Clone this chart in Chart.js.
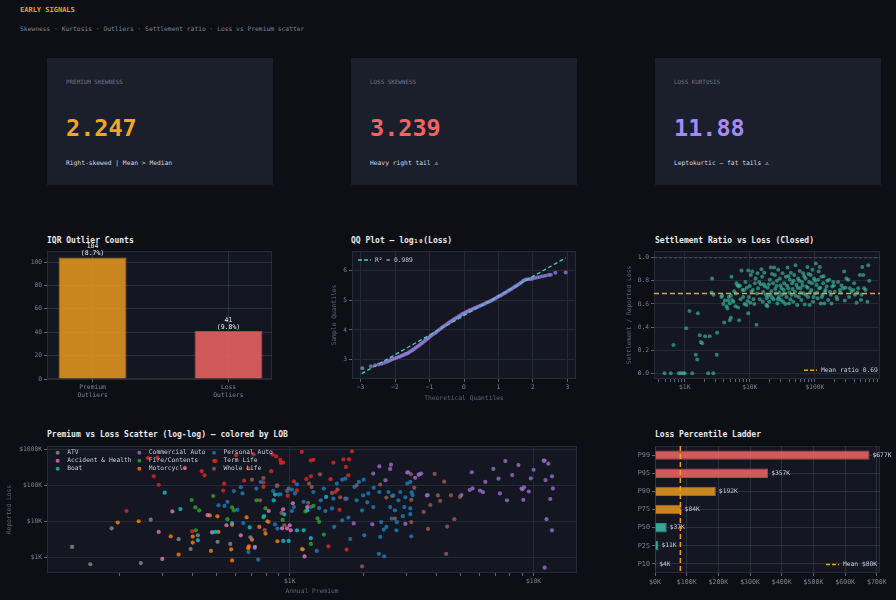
<!DOCTYPE html>
<html>
<head>
<meta charset="utf-8">
<script src="https://cdn.jsdelivr.net/npm/chart.js@4.4.1/dist/chart.umd.min.js"></script>
<style>
html, body { margin: 0; padding: 0; background: #0d0f14; }
body { width: 896px; height: 600px; position: relative; overflow: hidden; font-family: 'DejaVu Sans Mono', monospace; }
.t { position: absolute; white-space: nowrap; line-height: 1; }
.card { position: absolute; top: 58px; width: 226px; height: 127px; background: #1b1f2b; }
.card .lbl { left: 19px; top: 22px; font-size: 5.9px; color: #6d7389; }
.card .val { left: 19px; top: 59px; font-size: 23.5px; font-weight: bold; }
.card .sub { left: 19px; top: 102px; font-size: 6.3px; color: #d4d7e2; }
.ttl { font-size: 8px; font-weight: bold; color: #e8eaf0; }
.box { position: absolute; }
</style>
</head>
<body>

<div class="t" style="left:20px;top:7px;font-size:7px;font-weight:bold;color:#e8a317;">EARLY SIGNALS</div>
<div class="t" style="left:20px;top:26px;font-size:6.3px;color:#7d839c;">Skewness · Kurtosis · Outliers · Settlement ratio · Loss vs Premium scatter</div>

<div class="card" style="left:47px;">
  <div class="t lbl">PREMIUM SKEWNESS</div>
  <div class="t val" style="color:#f2a623;">2.247</div>
  <div class="t sub">Right-skewed | Mean &gt; Median</div>
</div>
<div class="card" style="left:351px;">
  <div class="t lbl">LOSS SKEWNESS</div>
  <div class="t val" style="color:#f26464;">3.239</div>
  <div class="t sub">Heavy right tail ⚠</div>
</div>
<div class="card" style="left:655px;">
  <div class="t lbl">LOSS KURTOSIS</div>
  <div class="t val" style="color:#a48af5;">11.88</div>
  <div class="t sub">Leptokurtic — fat tails ⚠</div>
</div>

<div class="t ttl" style="left:47px;top:237px;">IQR Outlier Counts</div>
<div class="t ttl" style="left:351px;top:237px;">QQ Plot — log₁₀(Loss)</div>
<div class="t ttl" style="left:655px;top:237px;">Settlement Ratio vs Loss (Closed)</div>
<div class="t ttl" style="left:47px;top:431px;">Premium vs Loss Scatter (log-log) — colored by LOB</div>
<div class="t ttl" style="left:655px;top:431px;">Loss Percentile Ladder</div>

<div class="box" style="left:10px;top:232px;width:270px;height:173px;"><canvas id="outliers"></canvas></div>
<div class="box" style="left:315px;top:245px;width:270px;height:160px;"><canvas id="qq"></canvas></div>
<div class="box" style="left:610px;top:245px;width:280px;height:160px;"><canvas id="settle"></canvas></div>
<div class="box" style="left:0px;top:440px;width:590px;height:160px;"><canvas id="scatter"></canvas></div>
<div class="box" style="left:610px;top:440px;width:286px;height:160px;"><canvas id="ladder"></canvas></div>

<script>
// ---- data ----
const outlierLabels = [['Premium', 'Outliers'], ['Loss', 'Outliers']];
const outlierCounts = [104, 41];
const outlierPct = ['8.7%', '9.8%'];
const outlierTicks = [0, 20, 40, 60, 80, 100];

const qqTheo = [-2.95, -2.70, -2.58, -2.48, -2.40, -2.33, -2.26, -2.20, -2.14, -2.08, -2.02, -1.96, -1.90, -1.85,
  -1.80, -1.75, -1.70, -1.65, -1.60, -1.55, -1.50, -1.45, -1.40, -1.35, -1.30, -1.25, -1.20, -1.15, -1.10, -1.05,
  -1.00, -0.95, -0.90, -0.85, -0.80, -0.75, -0.70, -0.65, -0.60, -0.55, -0.50, -0.45, -0.40, -0.35, -0.30, -0.25,
  -0.20, -0.15, -0.10, -0.05, 0.00, 0.05, 0.10, 0.15, 0.20, 0.25, 0.30, 0.35, 0.40, 0.45, 0.50, 0.55, 0.60, 0.65,
  0.70, 0.75, 0.80, 0.85, 0.90, 0.95, 1.00, 1.05, 1.10, 1.15, 1.20, 1.25, 1.30, 1.35, 1.40, 1.45, 1.50, 1.55, 1.60,
  1.65, 1.70, 1.75, 1.80, 1.86, 1.92, 1.98, 2.05, 2.12, 2.20, 2.28, 2.36, 2.45, 2.52, 2.65, 2.95];
const qqSample = [2.71, 2.78, 2.81, 2.84, 2.86, 2.89, 2.92, 2.95, 2.98, 3.01, 3.04, 3.06, 3.09, 3.11,
  3.14, 3.16, 3.19, 3.21, 3.24, 3.28, 3.32, 3.36, 3.40, 3.44, 3.48, 3.53, 3.57, 3.62, 3.67, 3.71,
  3.76, 3.80, 3.85, 3.89, 3.93, 3.98, 4.02, 4.07, 4.11, 4.15, 4.19, 4.23, 4.27, 4.31, 4.35, 4.38,
  4.42, 4.46, 4.49, 4.53, 4.56, 4.59, 4.62, 4.65, 4.68, 4.70, 4.73, 4.75, 4.78, 4.80, 4.83, 4.85, 4.88, 4.91,
  4.93, 4.96, 4.99, 5.02, 5.05, 5.09, 5.12, 5.15, 5.18, 5.22, 5.25, 5.29, 5.32, 5.36, 5.39, 5.43, 5.47, 5.51, 5.54,
  5.58, 5.63, 5.67, 5.69, 5.70, 5.71, 5.72, 5.74, 5.76, 5.78, 5.80, 5.82, 5.84, 5.85, 5.92, 5.93];
const qqFitX = [-2.97, 2.95];
const qqFitY = [2.53, 6.42];
const qqXTicks = [-3, -2, -1, 0, 1, 2, 3];
const qqYTicks = [3, 4, 5, 6];

// settlement: [reported loss, settlement ratio]
const settleLowPts = [[490, 0], [610, 0], [810, 0], [870, 0], [940, 0], [1000, 0], [1300, 0], [2290, 0], [2750, 0],
  [670, 0.245], [1050, 0.39], [1180, 0.54], [1590, 0.52], [1480, 0.16], [1560, 0.12], [1700, 0.33], [1760, 0.27],
  [1850, 0.26], [2050, 0.32], [2420, 0.32], [2630, 0.82], [2580, 0.70], [2760, 0.68], [3140, 0.35], [3100, 0.16],
  [3750, 0.67], [4030, 0.44], [4930, 0.46], [5100, 0.48], [6850, 0.46], [12650, 0.42]];
const settleMainPts = [[3660, 0.66], [3900, 0.60], [4130, 0.63], [4370, 0.58], [4530, 0.56], [4640, 0.63], [4760, 0.66],
  [4930, 0.605], [5100, 0.67], [5220, 0.835], [5350, 0.635], [5750, 0.71], [6020, 0.58], [6240, 0.78], [6450, 0.76],
  [6770, 0.75], [7030, 0.76], [7440, 0.89], [7900, 0.66], [8170, 0.72], [8560, 0.79], [8870, 0.59], [9200, 0.625],
  [9440, 0.52], [9440, 0.89], [9990, 0.755], [10340, 0.85], [10600, 0.705], [10870, 0.88], [11400, 0.64], [11940, 0.78],
  [12240, 0.82], [13100, 0.865], [13400, 0.735], [13890, 0.79], [14700, 0.77], [15100, 0.90], [15450, 0.835],
  [16050, 0.705], [16650, 0.87], [17050, 0.75], [18000, 0.59], [18200, 0.65], [18600, 0.58], [19100, 0.67],
  [19600, 0.77], [20300, 0.81], [21000, 0.915], [21500, 0.71], [22000, 0.655], [22800, 0.78], [23600, 0.915],
  [24200, 0.85], [25000, 0.69], [25700, 0.755], [26600, 0.605], [27300, 0.895], [27900, 0.66], [28900, 0.82],
  [30000, 0.635], [30700, 0.735], [31800, 0.865], [32500, 0.62], [33700, 0.78], [34500, 0.69], [35800, 0.835],
  [36600, 0.66], [38000, 0.915], [38900, 0.735], [39800, 0.605], [41200, 0.81], [42700, 0.87], [43700, 0.68],
  [44700, 0.78], [46400, 0.62], [48000, 0.85], [49200, 0.705], [50300, 0.935], [52100, 0.765], [53400, 0.59],
  [55200, 0.82], [56500, 0.66], [58500, 0.885], [59900, 0.735], [62000, 0.635], [63500, 0.79], [65800, 0.865],
  [67400, 0.69], [69800, 0.595], [71500, 0.82], [74000, 0.75], [76700, 0.92], [78500, 0.66], [81300, 0.79],
  [83200, 0.59], [86200, 0.85], [88300, 0.72], [91400, 0.895], [93600, 0.62], [97000, 0.82], [99400, 0.69],
  [103000, 0.95], [106000, 0.765], [110000, 0.65], [112000, 0.81], [116000, 0.735], [119000, 0.92], [123000, 0.605],
  [126000, 0.835], [131000, 0.68], [134000, 0.78], [139000, 0.605], [142000, 0.705], [151000, 0.75], [160000, 0.635],
  [166000, 0.81], [170000, 0.705], [180000, 0.605], [185000, 0.75], [191000, 0.79], [202000, 0.705], [215000, 0.66],
  [227000, 0.79], [241000, 0.72], [256000, 0.76], [271000, 0.735], [281000, 0.88], [288000, 0.63], [305000, 0.82],
  [325000, 0.81], [344000, 0.735], [365000, 0.705], [387000, 0.72], [411000, 0.68], [436000, 0.61], [463000, 0.735],
  [491000, 0.85], [509000, 0.635], [521000, 0.68], [534000, 0.92], [553000, 0.85], [570000, 0.735], [660000, 0.935],
  [684000, 0.80]];
const settleExtraPts = [[5600, 0.62], [6100, 0.69], [6600, 0.57], [7200, 0.64], [7700, 0.72], [8300, 0.60], [9000, 0.74],
  [9700, 0.66], [10200, 0.61], [11100, 0.72], [11700, 0.60], [12800, 0.69], [14200, 0.64], [15800, 0.62], [16400, 0.77],
  [17500, 0.68], [18900, 0.74], [19900, 0.62], [20800, 0.68], [21900, 0.86], [23100, 0.64], [24600, 0.73], [26100, 0.80],
  [27000, 0.64], [28400, 0.70], [29500, 0.76], [31200, 0.68], [33100, 0.72], [35000, 0.60], [37200, 0.76], [39200, 0.84],
  [40500, 0.70], [42000, 0.64], [45300, 0.73], [47100, 0.80], [50800, 0.67], [54300, 0.74], [57300, 0.80], [60900, 0.70],
  [64600, 0.76], [68500, 0.84], [72700, 0.68], [77500, 0.74], [80100, 0.86], [84700, 0.70], [89900, 0.78], [95200, 0.66],
  [101000, 0.80], [108000, 0.70], [114000, 0.88], [121000, 0.74], [128000, 0.66], [136000, 0.84], [146000, 0.72],
  [155000, 0.80], [175000, 0.68], [196000, 0.76], [220000, 0.64], [248000, 0.70], [295000, 0.74], [335000, 0.66],
  [400000, 0.78], [450000, 0.70], [600000, 0.72], [640000, 0.62]];
const settleMeanRatio = 0.69;
const settleYTicks = [0, 0.2, 0.4, 0.6, 0.8, 1.0];

// premium vs loss by line of business: [annual premium, reported loss]
const lobNames = ['ATV', 'Accident & Health', 'Boat', 'Commercial Auto', 'Fire/Contents', 'Motorcycle',
  'Personal Auto', 'Term Life', 'Whole Life'];
const atvPts = [[128, 1940], [152, 640], [186, 6400], [245, 690], [269, 11200], [350, 3200], [392, 1700], [420, 4100],
  [480, 5000], [506, 2700], [570, 2350], [690, 3600]];
const accidentPts = [[290, 5100], [300, 900], [330, 19000], [460, 15000], [550, 7800], [630, 4100], [720, 1940],
  [820, 19500], [930, 6400], [940, 21700], [975, 6400], [1000, 7800], [1010, 5650], [1030, 32000], [1150, 1060], [1180, 25000]];
const boatPts = [[307, 63000], [356, 22000], [420, 2960], [482, 4900], [496, 5100], [580, 9000], [685, 6800], [785, 14100],
  [860, 38600], [870, 56000], [940, 2850], [950, 15700], [990, 2850], [1070, 5650], [1140, 5650], [1180, 20400],
  [1220, 3400], [1410, 48000]];
const commercialPts = [[1830, 8800], [2180, 8300], [2200, 215000], [2330, 340000], [2470, 139000], [2580, 290000],
  [2600, 380000], [2980, 8500], [3030, 230000], [3060, 234000], [3270, 164000], [3380, 200000], [3400, 205000],
  [3460, 215000], [3650, 53000], [3680, 54000], [5060, 54000], [5470, 75000], [5580, 234000], [5620, 83000],
  [6030, 72000], [6200, 65000], [6340, 126000], [6840, 290000], [7180, 155000], [7280, 60000], [7660, 480000],
  [7780, 38600], [8170, 195000], [8670, 370000], [8930, 82000], [9000, 78000], [9080, 40000], [9140, 89000],
  [9560, 68000], [9740, 158000], [10000, 275000], [11000, 490000], [11100, 490000], [11200, 142000], [11500, 405000],
  [11700, 42000], [11300, 11500], [11900, 180000], [11900, 5650], [12000, 83000], [11100, 515]];
const firePts = [[396, 39500], [410, 24500], [425, 20400], [485, 51000], [412, 5650], [555, 11500], [580, 24500],
  [590, 20400], [730, 38600], [780, 13000], [795, 23000], [935, 11000], [1160, 19000], [1250, 27000], [1300, 12200],
  [1320, 9700], [1380, 4300], [1220, 2350]];
const motorcyclePts = [[197, 9300], [240, 10100], [325, 3840], [350, 1190], [400, 3780], [400, 2570], [470, 14700],
  [475, 1500], [505, 13800], [510, 5100], [575, 1670], [580, 820], [580, 8000], [665, 13000], [680, 2020], [675, 1800],
  [700, 3100], [750, 7000], [795, 4570], [810, 10100], [890, 2800], [1130, 1670]];
const personalPts = [[510, 28000], [540, 27000], [555, 35000], [590, 70000], [610, 21000], [630, 90000], [640, 60000],
  [645, 9000], [677, 1400], [718, 1810], [730, 82000], [742, 860], [760, 125000], [855, 70000], [870, 8300], [890, 6300],
  [900, 56000], [915, 57000], [975, 70000], [1020, 77000], [1020, 19500], [1040, 25000], [1050, 60000], [1070, 108000],
  [1140, 35000], [1220, 25000], [1250, 66000], [1290, 1500], [1320, 23500], [1340, 38600], [1380, 82000], [1400, 19400],
  [1490, 23000], [1510, 43000], [1520, 7000], [1560, 113000], [1640, 145000], [1640, 10700], [1690, 155000],
  [1710, 43000], [1740, 12800], [1770, 3230], [1840, 91000], [1880, 38600], [1920, 126000], [1980, 20400], [2000, 53000],
  [2010, 145000], [2020, 4100], [2080, 34000], [2100, 60000], [2200, 25000], [2210, 86000], [2320, 1250], [2330, 66000],
  [2350, 3700], [2370, 9600], [2430, 5900], [2440, 1070], [2490, 7000], [2540, 66000], [2580, 25000], [2620, 12000],
  [2660, 53000], [2700, 20400], [2740, 5650], [2750, 9600], [2790, 38600], [2840, 66000], [2910, 14000], [2950, 25000],
  [2980, 47000], [3030, 113000], [3120, 126000], [3160, 64000], [3190, 54000], [3120, 23000], [3120, 16000], [3150, 3840]];
const termLifePts = [[214, 19500], [262, 580000], [277, 180000], [290, 105000], [286, 595000], [372, 310000], [398, 5300],
  [436, 250000], [447, 192000], [496, 480000], [533, 72000], [538, 113000], [603, 700000], [650, 137000], [677, 300000],
  [710, 740000], [780, 122000], [780, 91000], [840, 250000], [850, 725000], [880, 650000], [915, 515000], [940, 435000],
  [920, 425000], [980, 52000], [1040, 130000], [1070, 73000], [1120, 860000], [1170, 150000], [1220, 500000],
  [1220, 180000], [1250, 520000], [1440, 2020], [1470, 150000], [1510, 435000], [1540, 66000], [1600, 21000],
  [1660, 535000], [1700, 330000], [1710, 1640], [1740, 192000], [1750, 535000], [1800, 900000]];
const wholeLifePts = [[700, 145000], [755, 38600], [780, 162000], [790, 5750], [820, 9600], [885, 97000], [890, 101000],
  [925, 17200], [950, 7800], [990, 82000], [1120, 1700], [1190, 33000], [1200, 113000], [1230, 91000], [1330, 205000],
  [1490, 62000], [1570, 77000], [1610, 47000], [1690, 43000], [1880, 101000], [1980, 560], [2350, 106000], [2490, 46000],
  [2630, 51000], [2700, 12000], [3140, 205000], [3150, 9600], [3150, 40000], [3240, 86000], [3540, 18300], [3690, 6150],
  [3770, 28600], [3930, 210000], [4050, 53000], [4140, 37500], [4300, 128000], [4380, 1240], [4420, 7150], [4580, 53000],
  [4730, 11500], [4990, 48000]];

const ladderLabels = ['P99', 'P95', 'P90', 'P75', 'P50', 'P25', 'P10'];
const ladderValues = [677000, 357000, 192000, 84000, 37000, 11000, 4000];
const ladderMean = 80000;
const ladderTicks = [0, 100000, 200000, 300000, 400000, 500000, 600000, 700000];

// ---- look ----
const FONT = "'DejaVu Sans Mono', monospace";
const GRID = '#242935';
const GRID_OVER = 'rgba(70,76,96,0.45)';
const TICKC = '#5d6275';
const LEGEND_TXT = '#c8ccd8';
Chart.defaults.font.family = FONT;
Chart.defaults.font.size = 6.3;
Chart.defaults.color = '#7c8196';
Chart.defaults.animation = false;
Chart.defaults.plugins.legend.display = false;
Chart.defaults.plugins.tooltip.enabled = false;

const lobColors = ['rgba(140,140,140,0.8)', 'rgba(227,119,194,0.8)', 'rgba(23,190,207,0.8)', 'rgba(148,103,189,0.85)',
  'rgba(44,160,44,0.85)', 'rgba(255,127,14,0.8)', 'rgba(31,119,180,0.85)', 'rgba(214,39,40,0.85)', 'rgba(140,86,75,0.9)'];

function toXY(pairs) { return pairs.map(p => ({ x: p[0], y: p[1] })); }
function fixedTicks(vals) { return s => { s.ticks = vals.map(v => ({ value: v })); }; }
function logTicks(lo, hi) {
  const out = [];
  for (let e = Math.floor(Math.log10(lo)); e <= Math.ceil(Math.log10(hi)); e++) {
    for (let m = 1; m < 10; m++) {
      const v = m * Math.pow(10, e);
      if (v >= lo && v <= hi) out.push({ value: v });
    }
  }
  return out;
}
function isMajor(v) { const l = Math.log10(v); return Math.abs(l - Math.round(l)) < 1e-9; }
function kLabel(v) { return '$' + Math.round(v / 1000) + 'K'; }
function minus(v) { return v < 0 ? '\u2212' + Math.abs(v) : String(v); }

// plot background + frame
const plotBg = {
  id: 'plotBg',
  beforeDraw(chart) {
    const { ctx, chartArea: a } = chart;
    ctx.save();
    ctx.fillStyle = '#141722';
    ctx.fillRect(a.left, a.top, a.width, a.height);
    ctx.strokeStyle = '#262b37';
    ctx.lineWidth = 1;
    ctx.strokeRect(a.left + 0.5, a.top + 0.5, a.width - 1, a.height - 1);
    ctx.restore();
  }
};
Chart.register(plotBg);

// dashed reference lines drawn through the scales
function refLines(lines) {
  return {
    id: 'refLines',
    afterDraw(chart) {
      const { ctx, chartArea: a } = chart;
      lines.forEach(l => {
        const p = chart.scales[l.axis].getPixelForValue(l.value);
        ctx.save();
        ctx.strokeStyle = l.color;
        ctx.lineWidth = l.width;
        ctx.setLineDash(l.dash);
        ctx.beginPath();
        if (l.axis === 'x') { ctx.moveTo(p, a.top); ctx.lineTo(p, a.bottom); }
        else { ctx.moveTo(a.left, p); ctx.lineTo(a.right, p); }
        ctx.stroke();
        ctx.restore();
      });
    }
  };
}

// legend drawn inside the plot area
function innerLegend(items) {
  return {
    id: 'innerLegend',
    afterDraw(chart) {
      const { ctx, chartArea: a } = chart;
      ctx.save();
      ctx.font = '6.3px ' + FONT;
      ctx.textBaseline = 'middle';
      items.forEach(it => {
        const x = it.right ? a.right - it.dx : a.left + it.dx;
        const y = it.bottom ? a.bottom - it.dy : a.top + it.dy;
        if (it.kind === 'dot') {
          ctx.fillStyle = it.color;
          ctx.beginPath(); ctx.arc(x, y, 2, 0, Math.PI * 2); ctx.fill();
          ctx.fillStyle = LEGEND_TXT;
          ctx.fillText(it.text, x + 9.5, y);
        } else {
          ctx.strokeStyle = it.color;
          ctx.lineWidth = 1.5;
          ctx.setLineDash([4, 2]);
          ctx.beginPath(); ctx.moveTo(x, y); ctx.lineTo(x + 13, y); ctx.stroke();
          ctx.setLineDash([]);
          ctx.fillStyle = LEGEND_TXT;
          ctx.fillText(it.text, x + 17, y);
        }
      });
      ctx.restore();
    }
  };
}

function axisBase(extra) {
  return Object.assign({
    grid: { color: GRID, tickColor: TICKC, tickLength: 3 },
    border: { display: false },
    ticks: { padding: 2, maxRotation: 0, autoSkip: false }
  }, extra);
}

// ---- 1. IQR outlier counts ----
new Chart(document.getElementById('outliers'), {
  type: 'bar',
  data: {
    datasets: [{
      data: outlierCounts.map((c, i) => ({ x: i, y: c })),
      backgroundColor: ['rgba(232,153,30,0.86)', 'rgba(240,100,100,0.86)'],
      borderColor: ['rgba(170,110,25,0.95)', 'rgba(180,70,70,0.95)'],
      borderWidth: 1,
      categoryPercentage: 1,
      barPercentage: 0.5
    }]
  },
  options: {
    responsive: true, maintainAspectRatio: false,
    layout: { padding: { left: 0, right: 8, top: 19, bottom: 0 } },
    scales: {
      x: axisBase({ type: 'linear', z: 1, offset: false, min: -0.335, max: 1.32,
        afterBuildTicks: fixedTicks([0, 1]),
        grid: { color: GRID_OVER, tickColor: TICKC, tickLength: 3, offset: false },
        ticks: { padding: 2, maxRotation: 0, autoSkip: false, callback: v => outlierLabels[v] },
        afterFit: s => { s.height = 26; } }),
      y: axisBase({ z: 1, min: 0, max: 109.5, grid: { color: GRID_OVER, tickColor: TICKC, tickLength: 3 },
        afterBuildTicks: fixedTicks(outlierTicks), afterFit: s => { s.width = 37; } })
    }
  },
  plugins: [{
    id: 'barTop',
    afterDraw(chart) {
      const { ctx } = chart;
      const meta = chart.getDatasetMeta(0);
      ctx.save();
      ctx.font = '6.5px ' + FONT;
      ctx.fillStyle = '#eef0f5';
      ctx.textAlign = 'center';
      ctx.textBaseline = 'middle';
      meta.data.forEach((el, i) => {
        ctx.fillText(String(outlierCounts[i]), el.x, el.y - 11);
        ctx.fillText('(' + outlierPct[i] + ')', el.x, el.y - 3.8);
      });
      ctx.restore();
    }
  }]
});

// ---- 2. QQ plot ----
new Chart(document.getElementById('qq'), {
  type: 'scatter',
  data: {
    datasets: [{
      type: 'line',
      data: qqFitX.map((x, i) => ({ x: x, y: qqFitY[i] })),
      borderColor: '#45d0b6',
      borderWidth: 1.3,
      borderDash: [4, 2.5],
      pointRadius: 0
    }, {
      data: qqTheo.map((x, i) => ({ x: x, y: qqSample[i] })),
      backgroundColor: 'rgba(160,132,240,0.7)',
      borderWidth: 0,
      pointRadius: 2
    }]
  },
  options: {
    responsive: true, maintainAspectRatio: false,
    layout: { padding: { left: 0, right: 9, top: 6, bottom: 0 } },
    scales: {
      x: axisBase({ type: 'linear', min: -3.25, max: 3.25, afterBuildTicks: fixedTicks(qqXTicks),
        ticks: { padding: 2, maxRotation: 0, autoSkip: false, callback: v => minus(v) },
        title: { display: true, text: 'Theoretical Quantiles', color: '#5e6479', padding: { top: 0, bottom: 3.2 } },
        afterFit: s => { s.height = 26; } }),
      y: axisBase({ min: 2.35, max: 6.65, afterBuildTicks: fixedTicks(qqYTicks),
        title: { display: true, text: 'Sample Quantiles', color: '#5e6479', padding: { top: 15.9, bottom: 0 } },
        afterFit: s => { s.width = 37; } })
    }
  },
  plugins: [innerLegend([{ kind: 'line', color: '#45d0b6', dx: 6, dy: 9, text: 'R² = 0.989' }])]
});

// ---- 3. settlement ratio vs loss ----
const settleXTicks = logTicks(340, 999999);
new Chart(document.getElementById('settle'), {
  type: 'scatter',
  data: {
    datasets: [{
      data: toXY(settleMainPts.concat(settleExtraPts, settleLowPts)),
      backgroundColor: 'rgba(62,190,165,0.62)',
      borderWidth: 0,
      pointRadius: 2
    }]
  },
  options: {
    responsive: true, maintainAspectRatio: false,
    layout: { padding: { left: 0, right: 10, top: 6, bottom: 0 } },
    scales: {
      x: axisBase({ type: 'logarithmic', min: 337, max: 1000000,
        afterBuildTicks: s => { s.ticks = settleXTicks.map(t => ({ value: t.value })); },
        grid: { color: c => isMajor(c.tick.value) ? GRID : 'rgba(0,0,0,0)', tickColor: TICKC, tickLength: 3 },
        ticks: { padding: 2, maxRotation: 0, autoSkip: false, callback: v => isMajor(v) ? kLabel(v) : '' },
        afterFit: s => { s.height = 26; } }),
      y: axisBase({ min: -0.049, max: 1.058, afterBuildTicks: fixedTicks(settleYTicks),
        ticks: { padding: 2, callback: v => v.toFixed(1) },
        title: { display: true, text: 'Settlement / Reported Loss', color: '#5e6479', padding: { top: 15.9, bottom: 0 } },
        afterFit: s => { s.width = 44; } })
    }
  },
  plugins: [
    refLines([
      { axis: 'y', value: 1.0, color: '#4a4f60', width: 1, dash: [3, 2] },
      { axis: 'y', value: settleMeanRatio, color: '#f0a020', width: 1.5, dash: [5, 3] }
    ]),
    innerLegend([{ kind: 'line', color: '#f0a020', right: true, bottom: true, dx: 76, dy: 8.7, text: 'Mean ratio ' + settleMeanRatio.toFixed(2) }])
  ]
});

// ---- 4. premium vs loss scatter ----
const lobSeries = [atvPts, accidentPts, boatPts, commercialPts, firePts, motorcyclePts, personalPts, termLifePts, wholeLifePts];
const premXTicks = logTicks(200, 10000);
const lossYTicks = [1000, 10000, 100000, 1000000];
const legCols = [10.7, 92.3, 167];
const legRows = [6.7, 14.7, 22.7];
new Chart(document.getElementById('scatter'), {
  type: 'scatter',
  data: {
    datasets: lobSeries.map((pts, i) => ({
      label: lobNames[i],
      data: toXY(pts),
      backgroundColor: lobColors[i],
      borderWidth: 0,
      pointRadius: 2.1
    }))
  },
  options: {
    responsive: true, maintainAspectRatio: false,
    layout: { padding: { left: 0, right: 13, top: 6, bottom: 0 } },
    scales: {
      x: axisBase({ type: 'logarithmic', min: 101, max: 15070,
        afterBuildTicks: s => { s.ticks = premXTicks.map(t => ({ value: t.value })); },
        grid: { color: c => isMajor(c.tick.value) ? GRID : 'rgba(0,0,0,0)', tickColor: TICKC, tickLength: 3 },
        ticks: { padding: 2, maxRotation: 0, autoSkip: false, callback: v => isMajor(v) ? kLabel(v) : '' },
        title: { display: true, text: 'Annual Premium', color: '#5e6479', padding: { top: 0, bottom: 5.2 } },
        afterFit: s => { s.height = 27; } }),
      y: axisBase({ type: 'logarithmic', min: 365, max: 1260000,
        afterBuildTicks: fixedTicks(lossYTicks),
        ticks: { padding: 2, autoSkip: false, callback: v => kLabel(v) },
        title: { display: true, text: 'Reported Loss', color: '#5e6479', padding: { top: 5.2, bottom: 0 } },
        afterFit: s => { s.width = 47; } })
    }
  },
  plugins: [innerLegend(lobNames.map((n, i) => ({
    kind: 'dot', color: lobColors[i], dx: legCols[Math.floor(i / 3)], dy: legRows[i % 3], text: n
  })))]
});

// ---- 5. loss percentile ladder ----
const ladderColors = ['rgba(240,100,100,0.86)', 'rgba(240,100,100,0.86)', 'rgba(232,153,30,0.86)', 'rgba(232,153,30,0.86)',
  'rgba(64,196,178,0.82)', 'rgba(64,196,178,0.82)', 'rgba(50,170,130,0.82)'];
const ladderEdges = ['#b04848', '#b04848', '#a86c16', '#a86c16', '#2f8f82', '#2f8f82', '#257a5e'];
new Chart(document.getElementById('ladder'), {
  type: 'bar',
  data: {
    labels: ladderLabels,
    datasets: [{
      data: ladderValues,
      backgroundColor: ladderColors,
      borderColor: ladderEdges,
      borderWidth: 1,
      categoryPercentage: 1,
      barPercentage: 0.52
    }]
  },
  options: {
    indexAxis: 'y',
    responsive: true, maintainAspectRatio: false,
    layout: { padding: { left: 0, right: 16, top: 5, bottom: 0 } },
    scales: {
      x: axisBase({ z: 1, min: 0, max: 710000, afterBuildTicks: fixedTicks(ladderTicks),
        grid: { color: GRID_OVER, tickColor: TICKC, tickLength: 3 },
        ticks: { padding: 2, maxRotation: 0, autoSkip: false, font: { size: 6.6 }, callback: v => kLabel(v) },
        afterFit: s => { s.height = 27; } }),
      y: axisBase({ z: 1, grid: { color: GRID_OVER, tickColor: TICKC, tickLength: 3, offset: false },
        ticks: { padding: 2, font: { size: 6.8 } },
        afterFit: s => { s.width = 45; } })
    }
  },
  plugins: [
    refLines([{ axis: 'x', value: ladderMean, color: '#f0a020', width: 1.5, dash: [5, 3] }]),
    innerLegend([{ kind: 'line', color: '#f0a020', right: true, bottom: true, dx: 54, dy: 8.6, text: 'Mean ' + kLabel(ladderMean) }]),
    {
      id: 'barEnd',
      afterDraw(chart) {
        const { ctx } = chart;
        ctx.save();
        ctx.font = '6.3px ' + FONT;
        ctx.fillStyle = LEGEND_TXT;
        ctx.textBaseline = 'middle';
        chart.getDatasetMeta(0).data.forEach((el, i) => {
          ctx.fillText(kLabel(ladderValues[i]), el.x + 3, el.y);
        });
        ctx.restore();
      }
    }
  ]
});
</script>
</body>
</html>
